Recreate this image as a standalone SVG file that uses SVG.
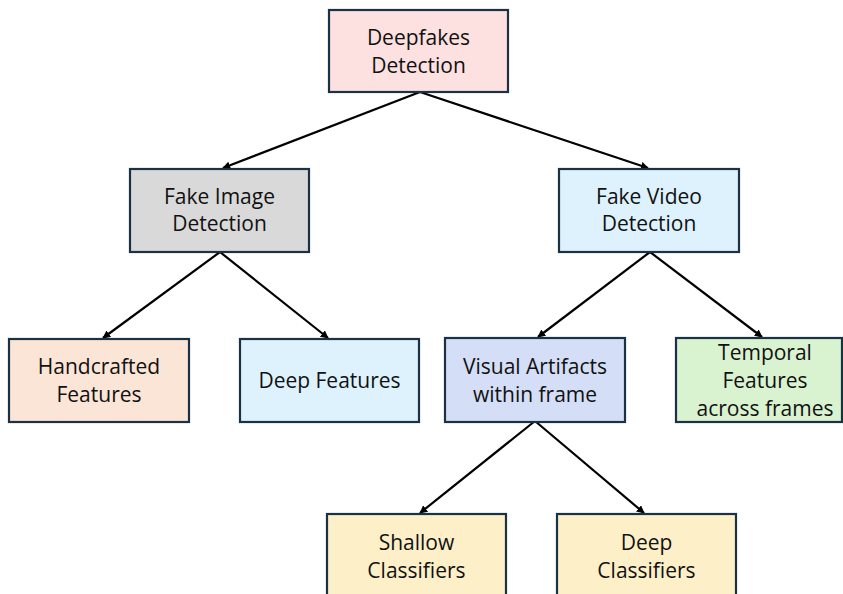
<svg xmlns="http://www.w3.org/2000/svg" width="843" height="594" viewBox="0 0 843 594">
<style>
.box{stroke:#1b3144;stroke-width:2.2}
.t{font-family:"Open Sans","Liberation Sans",sans-serif;font-size:21px;fill:#111;text-anchor:middle}
.c{stroke:#000;stroke-width:2.2;fill:none;marker-end:url(#ah)}
</style>
<defs>
<marker id="ah" viewBox="0 0 10 10" refX="9" refY="5" markerWidth="8" markerHeight="8" markerUnits="userSpaceOnUse" orient="auto">
<path d="M0,0 L10,5 L0,10 z" fill="#000"/>
</marker>
</defs>
<rect width="843" height="594" fill="#fff"/>
<g id="connectors">
<line class="c" x1="420" y1="92" x2="223" y2="168"/>
<line class="c" x1="420" y1="92" x2="648" y2="168"/>
<line class="c" x1="220" y1="252" x2="103" y2="338"/>
<line class="c" x1="220" y1="252" x2="328" y2="338"/>
<line class="c" x1="650" y1="252" x2="538" y2="337"/>
<line class="c" x1="650" y1="252" x2="762" y2="337"/>
<line class="c" x1="535" y1="421" x2="420" y2="513"/>
<line class="c" x1="535" y1="421" x2="644" y2="513"/>
</g>
<g id="root">
<rect class="box" x="329" y="10" width="179" height="82" fill="#fde0e0"/>
<text class="t" x="418.5" y="45">Deepfakes</text>
<text class="t" x="418.5" y="73">Detection</text>
</g>
<g id="fake-image">
<rect class="box" x="130" y="169" width="179" height="83" fill="#d9d9d9"/>
<text class="t" x="219.5" y="204">Fake Image</text>
<text class="t" x="219.5" y="231">Detection</text>
</g>
<g id="fake-video">
<rect class="box" x="559" y="169" width="180" height="83" fill="#ddf2fd"/>
<text class="t" x="649" y="204">Fake Video</text>
<text class="t" x="649" y="231">Detection</text>
</g>
<g id="handcrafted">
<rect class="box" x="9" y="339" width="180" height="83" fill="#fbe5d6"/>
<text class="t" x="99" y="374">Handcrafted</text>
<text class="t" x="99" y="402">Features</text>
</g>
<g id="deep-features">
<rect class="box" x="240" y="339" width="179" height="83" fill="#ddf2fd"/>
<text class="t" x="329.5" y="388">Deep Features</text>
</g>
<g id="visual-artifacts">
<rect class="box" x="445" y="338" width="180" height="84" fill="#d4dff7"/>
<text class="t" x="535" y="374">Visual Artifacts</text>
<text class="t" x="535" y="402">within frame</text>
</g>
<g id="temporal">
<rect class="box" x="676" y="338" width="166" height="84" fill="#d9f2d0"/>
<text class="t" x="765" y="360">Temporal</text>
<text class="t" x="765" y="388">Features</text>
<text class="t" x="765" y="416">across frames</text>
</g>
<g id="shallow">
<rect class="box" x="327" y="514" width="179" height="90" fill="#fdf0c8"/>
<text class="t" x="416.5" y="550">Shallow</text>
<text class="t" x="416.5" y="578">Classifiers</text>
</g>
<g id="deep-classifiers">
<rect class="box" x="557" y="514" width="179" height="90" fill="#fdf0c8"/>
<text class="t" x="646.5" y="550">Deep</text>
<text class="t" x="646.5" y="578">Classifiers</text>
</g>
</svg>
